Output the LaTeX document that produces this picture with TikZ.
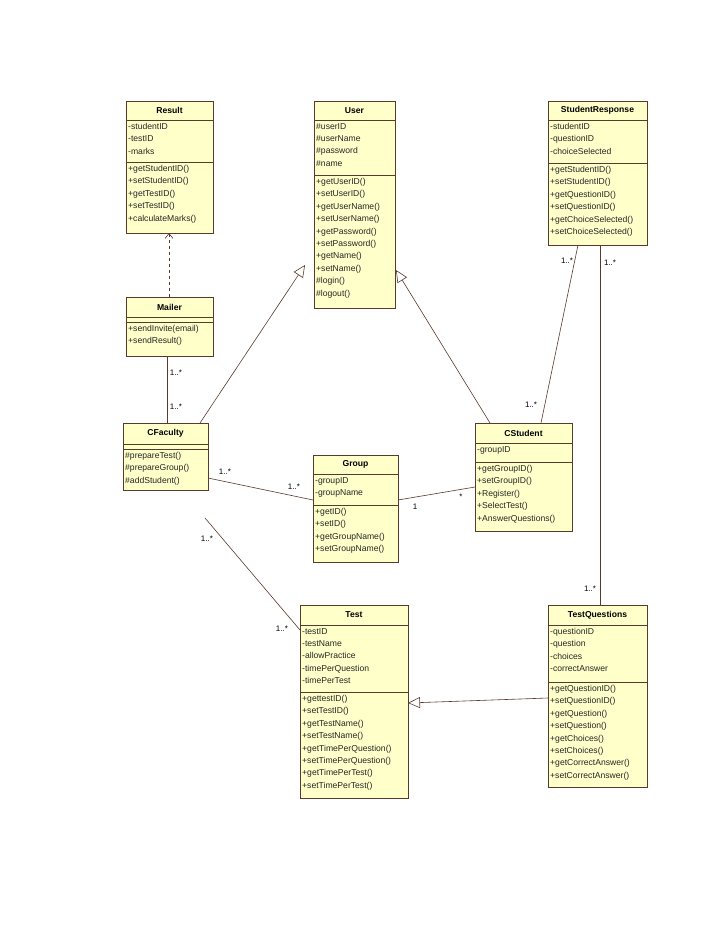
\documentclass[tikz,border=0pt]{standalone}
\usepackage{fontspec}
\setmainfont{Liberation Sans}
\usetikzlibrary{arrows.meta}
\definecolor{boxfill}{HTML}{FFFFCA}
\definecolor{ln}{HTML}{5A3A2A}
\tikzset{
  cls/.style={draw=ln, fill=boxfill, line width=0.9pt, anchor=north west, inner sep=0pt},
  txt/.style={anchor=north west, align=left, inner sep=0pt, font=\fontsize{8.6}{12.4}\selectfont, text=black!85},
  ttl/.style={anchor=center, inner sep=0pt, font=\bfseries\fontsize{8.6}{10}\selectfont},
  assoc/.style={draw=ln, line width=0.6pt},
  gen/.style={draw=ln, line width=0.6pt, -{Triangle[open, length=12pt, width=11pt, fill=white]}},
  dep/.style={draw=ln, line width=0.6pt, dashed, -{Straight Barb[length=5pt,width=8pt]}},
  mult/.style={inner sep=0pt, font=\fontsize{8}{9}\selectfont}
}
% name, x1, y1, x2, y2, ytitle, yattr, title, attrs, methods
\newcommand{\umlbox}[9]{%
  \node[cls, minimum width=#4-#2, minimum height=#5-#3] (#1) at (#2,#3) {};
  \def\tmpa{#6}\def\tmpb{#7}%
}
\newcommand{\umlrest}[7]{%
  % name x1 x2 ytitle yattr attrs methods
  \draw[ln, line width=0.9pt] (#2,#4) -- (#3,#4);
  \draw[ln, line width=0.9pt] (#2,#5) -- (#3,#5);
  \node[txt] (#1-a) at (#2+2,#4+3) {#6};
  \node[txt] (#1-m) at (#2+2,#5+3) {#7};
}
\begin{document}
\begin{tikzpicture}[x=1pt,y=-1pt]
\useasboundingbox[fill=white] (0,0) rectangle (728,943);
% Result
\node[cls, minimum width=87pt, minimum height=132pt] (Result) at (126,101) {};
\node[ttl] (Result-t) at (169.5,110.5) {Result};
\umlrest{Result}{126}{213}{120}{162}{-studentID\\-testID\\-marks}{+getStudentID()\\+setStudentID()\\+getTestID()\\+setTestID()\\+calculateMarks()}
% User
\node[cls, minimum width=81pt, minimum height=207pt] (User) at (314,101) {};
\node[ttl] (User-t) at (354.5,110.5) {User};
\umlrest{User}{314}{395}{120}{175}{\#userID\\\#userName\\\#password\\\#name}{+getUserID()\\+setUserID()\\+getUserName()\\+setUserName()\\+getPassword()\\+setPassword()\\+getName()\\+setName()\\\#login()\\\#logout()}
% StudentResponse
\node[cls, minimum width=99pt, minimum height=144pt] (SR) at (548,101) {};
\node[ttl] (SR-t) at (597.5,110.5) {StudentResponse};
\umlrest{SR}{548}{647}{120}{163}{-studentID\\-questionID\\-choiceSelected}{+getStudentID()\\+setStudentID()\\+getQuestionID()\\+setQuestionID()\\+getChoiceSelected()\\+setChoiceSelected()}
% Mailer
\node[cls, minimum width=87pt, minimum height=59pt] (Mailer) at (126,297) {};
\node[ttl] (Mailer-t) at (169.5,307) {Mailer};
\umlrest{Mailer}{126}{213}{317}{322}{}{+sendInvite(email)\\+sendResult()}
% CFaculty
\node[cls, minimum width=85pt, minimum height=67pt] (CF) at (123,423) {};
\node[ttl] (CF-t) at (165.5,433.5) {CFaculty};
\umlrest{CF}{123}{208}{444}{449}{}{\#prepareTest()\\\#prepareGroup()\\\#addStudent()}
% Group
\node[cls, minimum width=85pt, minimum height=107pt] (Group) at (313,455) {};
\node[ttl] (Group-t) at (355.5,464.5) {Group};
\umlrest{Group}{313}{398}{474}{505}{-groupID\\-groupName}{+getID()\\+setID()\\+getGroupName()\\+setGroupName()}
% CStudent
\node[cls, minimum width=97pt, minimum height=108pt] (CS) at (475,423) {};
\node[ttl] (CS-t) at (523.5,433) {CStudent};
\umlrest{CS}{475}{572}{443}{462}{-groupID}{+getGroupID()\\+setGroupID()\\+Register()\\+SelectTest()\\+AnswerQuestions()}
% Test
\node[cls, minimum width=108pt, minimum height=193pt] (Test) at (300,605) {};
\node[ttl] (Test-t) at (354,615) {Test};
\umlrest{Test}{300}{408}{625}{692}{-testID\\-testName\\-allowPractice\\-timePerQuestion\\-timePerTest}{+gettestID()\\+setTestID()\\+getTestName()\\+setTestName()\\+getTimePerQuestion()\\+setTimePerQuestion()\\+getTimePerTest()\\+setTimePerTest()}
% TestQuestions
\node[cls, minimum width=99pt, minimum height=182pt] (TQ) at (548,605) {};
\node[ttl] (TQ-t) at (597.5,615) {TestQuestions};
\umlrest{TQ}{548}{647}{625}{682}{-questionID\\-question\\-choices\\-correctAnswer}{+getQuestionID()\\+setQuestionID()\\+getQuestion()\\+setQuestion()\\+getChoices()\\+setChoices()\\+getCorrectAnswer()\\+setCorrectAnswer()}
% connection points
\coordinate (r1) at (169,233); \coordinate (m1) at (169,297);
\coordinate (m2) at (167,356); \coordinate (f1) at (167,423);
\coordinate (f2) at (200,423); \coordinate (u1) at (305,265);
\coordinate (s1) at (490,423); \coordinate (u2) at (396,270);
\coordinate (sr1) at (578,245); \coordinate (s2) at (541,423);
\coordinate (sr2) at (600,245); \coordinate (q1) at (600,605);
\coordinate (f3) at (208,478); \coordinate (g1) at (313,500);
\coordinate (g2) at (398,500); \coordinate (s3) at (475,487);
\coordinate (f4) at (205,518); \coordinate (t1) at (300,630);
\coordinate (q2) at (548,698); \coordinate (t2) at (408,703);
\draw[dep] (m1) -- (r1);
\draw[assoc] (m2) -- (f1);
\draw[gen] (f2) -- (u1);
\draw[gen] (s1) -- (u2);
\draw[assoc] (sr1) -- (s2);
\draw[assoc] (sr2) -- (q1);
\draw[assoc] (f3) -- (g1);
\draw[assoc] (g2) -- (s3);
\draw[assoc] (f4) -- (t1);
\draw[gen] (q2) -- (t2);
% multiplicities
\node[mult] (l1) at (176,373) {1..*};
\node[mult] (l2) at (176,407) {1..*};
\node[mult] (l3) at (567,261) {1..*};
\node[mult] (l4) at (531,405) {1..*};
\node[mult] (l5) at (610,263) {1..*};
\node[mult] (l6) at (590,589) {1..*};
\node[mult] (l7) at (225,472) {1..*};
\node[mult] (l8) at (294,487) {1..*};
\node[mult] (l9) at (415,507) {1};
\node[mult] (l10) at (461,497) {*};
\node[mult] (l11) at (207,539) {1..*};
\node[mult] (l12) at (282,629) {1..*};
\end{tikzpicture}
\end{document}
